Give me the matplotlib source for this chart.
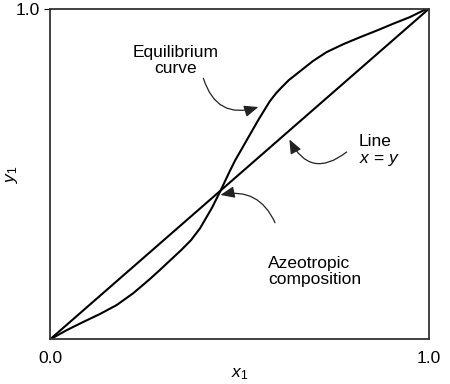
import matplotlib
matplotlib.use("Agg")
import matplotlib.pyplot as plt

plt.rcParams['font.family'] = ['Liberation Sans', 'DejaVu Sans']
plt.rcParams['mathtext.fontset'] = 'custom'
plt.rcParams['mathtext.it'] = 'Liberation Sans:italic'
plt.rcParams['mathtext.rm'] = 'Liberation Sans'

# equilibrium curve (x1, y1)
eq_x = [0.0, 0.044, 0.088, 0.132, 0.176, 0.220, 0.264, 0.290, 0.318, 0.347,
        0.372, 0.396, 0.427, 0.449, 0.475, 0.488, 0.519, 0.550, 0.580, 0.597,
        0.611, 0.630, 0.651, 0.694, 0.730, 0.774, 0.818, 0.862, 0.906, 0.950,
        0.989, 1.0]
eq_y = [0.0, 0.028, 0.053, 0.077, 0.104, 0.140, 0.183, 0.210, 0.240, 0.271,
        0.300, 0.336, 0.397, 0.447, 0.510, 0.540, 0.602, 0.664, 0.720, 0.745,
        0.762, 0.784, 0.803, 0.842, 0.869, 0.893, 0.914, 0.934, 0.955, 0.975,
        0.997, 1.0]
diag = [0.0, 1.0]
azeo = (0.446, 0.446)

fig = plt.figure(figsize=(4.5, 3.84), dpi=100)
ax = fig.add_axes([0.111, 0.116, 0.842, 0.861])

ax.plot(eq_x, eq_y, color='black', lw=1.5, solid_joinstyle='round')
ax.plot(diag, diag, color='black', lw=1.5)

ax.set_xlim(0, 1)
ax.set_ylim(0, 1)
ax.set_xticks([0, 1])
ax.set_xticklabels(['0.0', '1.0'])
ax.set_yticks([1])
ax.set_yticklabels(['1.0'])
ax.tick_params(axis='x', length=0, pad=8, labelsize=12.5)
ax.tick_params(axis='y', length=4, pad=3, labelsize=12.5)
for s in ax.spines.values():
    s.set_linewidth(1.3)
    s.set_color('#333333')

ax.set_xlabel(r'$x_1$', fontsize=12.5)
ax.set_ylabel(r'$y_1$', fontsize=12.5)
ax.xaxis.set_label_coords(0.5, -0.08)
ax.yaxis.set_label_coords(-0.08, 0.5)

arrow = dict(arrowstyle='-|>,head_length=0.85,head_width=0.35', color='#222222',
             lw=0.9, shrinkA=0, shrinkB=0)

ax.text(0.331, 0.843, 'Equilibrium\ncurve', ha='center', va='center',
        fontsize=12.5, linespacing=1.1)
ax.annotate('', xy=(0.550, 0.703), xytext=(0.405, 0.790),
            arrowprops=dict(arrow, connectionstyle='arc3,rad=0.5'))

ax.text(0.815, 0.57, 'Line\n$x$ = $y$', ha='left', va='center',
        fontsize=12.5, linespacing=1.1)
ax.annotate('', xy=(0.632, 0.605), xytext=(0.783, 0.567),
            arrowprops=dict(arrow, connectionstyle='arc3,rad=-0.6'))

ax.text(0.576, 0.206, 'Azeotropic\ncomposition', ha='left', va='center',
        fontsize=12.5, linespacing=1.1)
ax.annotate('', xy=(azeo[0] + 0.004, azeo[1] - 0.009), xytext=(0.594, 0.353),
            arrowprops=dict(arrow, connectionstyle='arc3,rad=0.4'))

fig.savefig('out.png', dpi=100)
